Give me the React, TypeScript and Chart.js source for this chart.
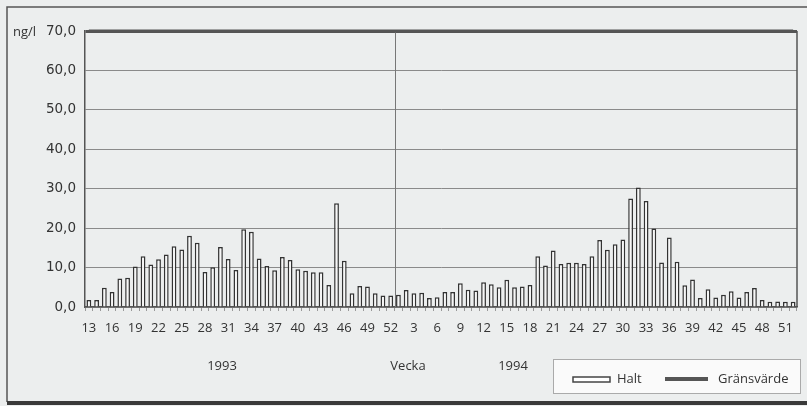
import React, { useEffect, useRef } from "react";
import { Chart, registerables } from "chart.js";

Chart.register(...registerables);

const weeks1993 = ["13","14","15","16","17","18","19","20","21","22","23","24","25","26","27","28","29","30","31","32","33","34","35","36","37","38","39","40","41","42","43","44","45","46","47","48","49","50","51","52"];
const weeks1994 = ["1","2","3","4","5","6","7","8","9","10","11","12","13","14","15","16","17","18","19","20","21","22","23","24","25","26","27","28","29","30","31","32","33","34","35","36","37","38","39","40","41","42","43","44","45","46","47","48","49","50","51","52"];

const halt1993 = [1.8,1.8,4.9,3.8,7.2,7.4,10.3,12.9,10.8,12.1,13.3,15.4,14.6,18.1,16.3,8.9,10.1,15.2,12.2,9.4,19.7,19.1,12.3,10.4,9.3,12.7,11.9,9.6,9.2,8.8,8.8,5.6,26.3,11.7,3.5,5.3,5.2,3.5,2.9,2.9];
const halt1994 = [3.1,4.3,3.5,3.6,2.3,2.5,3.8,3.8,6.0,4.4,4.2,6.3,5.8,5.0,6.9,5.0,5.2,5.6,12.9,10.5,14.3,10.9,11.2,11.2,10.9,12.9,17.0,14.5,15.9,17.1,27.5,30.3,26.9,19.9,11.3,17.6,11.5,5.5,7.0,2.3,4.5,2.4,3.1,4.0,2.4,3.8,4.8,1.8,1.3,1.4,1.3,1.3];

const gransvarde = 70;
const yMin = 0;
const yMax = 70;
const yStep = 10;

const labels = [...weeks1993, ...weeks1994];
const halt = [...halt1993, ...halt1994];

const FONT = "'Open Sans', 'Liberation Sans', sans-serif";
const YFONT = "'DejaVu Sans', 'Open Sans', sans-serif";

const decorPlugin = {
  id: "decor",
  beforeDraw(chart: any) {
    const ctx = chart.ctx;
    ctx.save();
    ctx.fillStyle = "#eceeee";
    ctx.fillRect(0, 0, chart.width, chart.height);
    ctx.strokeStyle = "#555";
    ctx.lineWidth = 1.5;
    ctx.beginPath();
    ctx.moveTo(chart.width, 7);
    ctx.lineTo(7, 7);
    ctx.lineTo(7, 402);
    ctx.stroke();
    ctx.lineWidth = 4;
    ctx.strokeStyle = "#3a3a3a";
    ctx.beginPath();
    ctx.moveTo(7, 403);
    ctx.lineTo(chart.width, 403);
    ctx.stroke();
    ctx.restore();
  },
  beforeDatasetsDraw(chart: any) {
    const ctx = chart.ctx;
    const xs = chart.scales.x;
    const area = chart.chartArea;
    const xDiv = (xs.getPixelForValue(weeks1993.length - 1) + xs.getPixelForValue(weeks1993.length)) / 2;
    ctx.save();
    ctx.strokeStyle = "#777";
    ctx.lineWidth = 1;
    ctx.beginPath();
    ctx.moveTo(Math.round(xDiv) + 0.5, area.top);
    ctx.lineTo(Math.round(xDiv) + 0.5, area.bottom);
    ctx.stroke();
    ctx.restore();
  },
  afterDraw(chart: any) {
    const ctx = chart.ctx;
    const ys = chart.scales.y;
    ctx.save();
    ctx.fillStyle = "#333";
    ctx.textBaseline = "middle";
    ctx.font = `13px ${FONT}`;
    ctx.textAlign = "left";
    ctx.fillText("ng/l", 13, ys.getPixelForValue(yMax) + 1);
    ctx.textAlign = "center";
    ctx.fillText("1993", 222, 366);
    ctx.fillText("Vecka", 408, 366);
    ctx.fillText("1994", 513, 366);
    ctx.fillStyle = "#fafafa";
    ctx.fillRect(553, 359, 248, 35);
    ctx.strokeStyle = "#aaa";
    ctx.lineWidth = 1;
    ctx.strokeRect(553.5, 359.5, 247, 34);
    ctx.fillStyle = "#ffffff";
    ctx.fillRect(573, 377, 37, 5);
    ctx.strokeStyle = "#444";
    ctx.lineWidth = 1.5;
    ctx.strokeRect(573, 377, 37, 5);
    ctx.fillStyle = "#333";
    ctx.textAlign = "left";
    ctx.fillText("Halt", 617, 379);
    ctx.strokeStyle = "#555";
    ctx.lineWidth = 4;
    ctx.beginPath();
    ctx.moveTo(665, 379);
    ctx.lineTo(708, 379);
    ctx.stroke();
    ctx.fillText("Gränsvärde", 718, 379);
    ctx.restore();
  },
};

export default function App() {
  const ref = useRef<HTMLCanvasElement>(null);
  useEffect(() => {
    if (!ref.current) return;
    const chart = new Chart(ref.current, {
      type: "bar",
      data: {
        labels,
        datasets: [
          {
            type: "bar",
            label: "Halt",
            data: halt,
            backgroundColor: "#f7f7f7",
            borderColor: "#333",
            borderWidth: 1.5,
            barPercentage: 0.62,
            categoryPercentage: 1,
            order: 2,
          },
          {
            type: "line",
            label: "Gränsvärde",
            data: labels.map(() => gransvarde),
            borderColor: "#555",
            borderWidth: 3,
            pointRadius: 0,
            clip: false,
            order: 1,
          } as any,
        ],
      },
      options: {
        animation: false,
        responsive: false,
        maintainAspectRatio: false,
        layout: { padding: { left: 0, right: 10, top: 31, bottom: 0 } },
        plugins: {
          legend: { display: false },
          tooltip: { enabled: false },
        },
        scales: {
          x: {
            offset: true,
            afterFit(scale: any) {
              scale.height = 99;
            },
            grid: {
              display: true,
              drawOnChartArea: false,
              tickLength: 4,
              color: "#999",
              offset: true,
            },
            border: { display: true, color: "#555", width: 1.5 },
            ticks: {
              autoSkip: false,
              maxRotation: 0,
              minRotation: 0,
              padding: 9,
              color: "#333",
              font: { family: FONT, size: 13 },
              callback: (_v: any, i: number) => (i % 3 === 0 ? labels[i] : ""),
            },
          },
          y: {
            min: yMin,
            max: yMax,
            afterFit(scale: any) {
              scale.width = 85;
            },
            grid: {
              drawTicks: false,
              color: (c: any) => (c.tick && c.tick.value === yMax ? "#555" : "#8a8a8a"),
              lineWidth: (c: any) => (c.tick && c.tick.value === yMax ? 3 : 1),
            },
            border: { display: true, color: "#555", width: 1.5 },
            ticks: {
              stepSize: yStep,
              padding: 9,
              color: "#333",
              font: { family: YFONT, size: 13.5 },
              callback: (v: any) => Number(v).toFixed(1).replace(".", ","),
            },
          },
        },
      },
      plugins: [
        decorPlugin,
        {
          id: "rightBorder",
          afterDatasetsDraw(c: any) {
            const a = c.chartArea;
            const ctx = c.ctx;
            ctx.save();
            ctx.strokeStyle = "#555";
            ctx.lineWidth = 1.5;
            ctx.beginPath();
            ctx.moveTo(a.right, a.top);
            ctx.lineTo(a.right, a.bottom);
            ctx.stroke();
            ctx.restore();
          },
        },
      ],
    });
    return () => chart.destroy();
  }, []);
  return (
    <div style={{ position: "fixed", left: 0, top: 0, width: 807, height: 406 }}>
      <canvas ref={ref} width={807} height={406} style={{ display: "block" }} />
    </div>
  );
}
